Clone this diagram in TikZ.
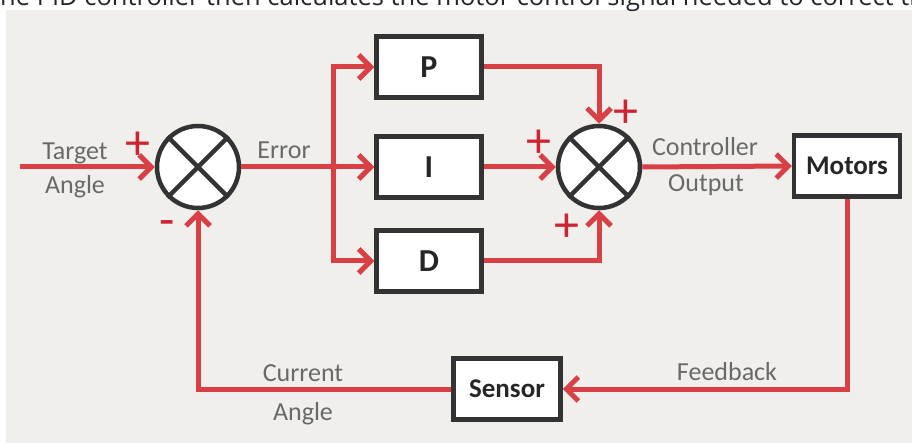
\documentclass[tikz,border=0pt]{standalone}
\usepackage{fontspec}
\setmainfont{Carlito}
\newfontfamily\capfont{Open Sans}
\usetikzlibrary{arrows.meta}
\definecolor{panelgray}{RGB}{240,239,236}
\definecolor{sigred}{RGB}{216,64,70}
\definecolor{signred}{RGB}{205,35,50}
\definecolor{boxgray}{RGB}{51,51,51}
\definecolor{labelgray}{RGB}{105,105,105}
\begin{document}
\begin{tikzpicture}[x=1pt,y=-1pt,
    sig/.style={draw=sigred,line width=5pt,-{Straight Barb[length=12pt,width=24pt]}},
    blockbox/.style={draw=boxgray,fill=white,line width=4.5pt,minimum width=105pt,minimum height=61pt,
      font=\fontsize{32}{36}\selectfont\bfseries,text=black!85},
    sumnode/.style={circle,draw=boxgray,fill=white,line width=4.5pt,minimum size=82pt},
    lbl/.style={text=labelgray,font=\fontsize{26}{30}\selectfont},
    sgn/.style={text=signred,font=\fontsize{50}{50}\selectfont,inner sep=0pt}]
    \useasboundingbox (0,0) rectangle (912,443);
    \fill[panelgray] (6,10) rectangle (912,443);
    \begin{scope}
      \clip (0,0) rectangle (912,443);
      \node[anchor=base west,inner sep=0pt,text=black!85,font=\capfont\fontsize{25.5}{28}\selectfont] (caption) at (-9,6)
        {the PID controller then calculates the motor control signal needed to correct the};
    \end{scope}
    % blocks
    \node[sumnode] (sum1) at (198,167) {};
    \node[sumnode] (sum2) at (599,167) {};
    \node[blockbox] (pblock) at (429,67) {P};
    \node[blockbox] (iblock) at (429,167) {I};
    \node[blockbox] (dblock) at (429,261) {D};
    \node[blockbox,minimum width=106pt,font=\fontsize{27}{30}\selectfont\bfseries] (motors) at (847,166) {Motors};
    \node[blockbox,minimum width=107pt,font=\fontsize{27}{30}\selectfont\bfseries] (sensor) at (507,389) {Sensor};
    \foreach \s in {sum1,sum2} {
      \draw[boxgray,line width=4.5pt] (\s.45) -- (\s.225) (\s.135) -- (\s.315);
    }
    % signals
    \coordinate (input) at (20,167);
    \coordinate (branch) at (333,167);
    \draw[sig] (input) -- (sum1.west);
    \draw[sig] (sum1.east) -- (iblock.west);
    \draw[sig] (branch) |- (pblock.west);
    \draw[sig] (branch) |- (dblock.west);
    \draw[sig] (pblock.east) -| (sum2.north);
    \draw[sig] (iblock.east) -- (sum2.west);
    \draw[sig] (dblock.east) -| (sum2.south);
    \draw[sig] (sum2.east) -- (motors.west);
    \draw[sig] (motors.south) |- (sensor.east);
    \draw[sig] (sensor.west) -| (sum1.south);
    % labels
    \node[lbl] (target) at (75,153) {Target};
    \node[lbl] (angle) at (75,187) {Angle};
    \node[lbl] (error) at (284,150) {Error};
    \node[lbl] (ctrl) at (705,147) {Controller};
    \node[lbl] (output) at (706,185) {Output};
    \node[lbl] (current) at (303,373) {Current};
    \node[lbl] (angle2) at (303,414) {Angle};
    \node[lbl] (feedback) at (727,372) {Feedback};
    % signs
    \node[sgn] (plus1) at (138,146) {+};
    \node[sgn] (minus1) at (167,229) {-};
    \node[sgn] (plus2) at (626,114) {+};
    \node[sgn] (plus3) at (539,144) {+};
    \node[sgn] (plus4) at (567,228) {+};
\end{tikzpicture}
\end{document}
